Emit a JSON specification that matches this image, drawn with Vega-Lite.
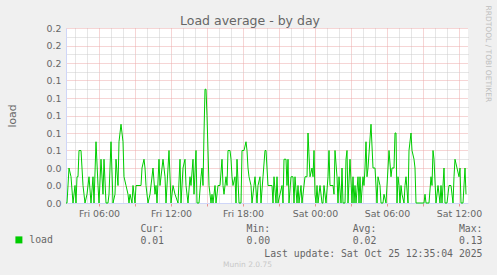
{
  "$schema": "https://vega.github.io/schema/vega-lite/v6.json",
  "width": 402,
  "height": 175,
  "autosize": {"type": "none"},
  "padding": {"left": 66, "top": 28, "right": 29, "bottom": 72},
  "background": "#F0F0F0",
  "config": {
    "view": {"stroke": null, "fill": "#FFFFFF"},
    "font": "DejaVu Sans"
  },
  "title": {
    "text": "Munin 2.0.75",
    "orient": "bottom",
    "anchor": "middle",
    "frame": "group",
    "font": "DejaVu Sans",
    "fontSize": 7.5,
    "fontWeight": "normal",
    "color": "#C8C8C8",
    "dx": -19.5,
    "offset": 3
  },
  "data": {
    "values": [
      {"time": "2025-10-24T03:15Z", "load": 0},
      {"time": "2025-10-24T03:20Z", "load": 0},
      {"time": "2025-10-24T03:30Z", "load": 0.04},
      {"time": "2025-10-24T03:40Z", "load": 0.03},
      {"time": "2025-10-24T03:50Z", "load": 0},
      {"time": "2025-10-24T04:00Z", "load": 0.02},
      {"time": "2025-10-24T04:05Z", "load": 0},
      {"time": "2025-10-24T04:10Z", "load": 0.03},
      {"time": "2025-10-24T04:15Z", "load": 0.03},
      {"time": "2025-10-24T04:20Z", "load": 0.06},
      {"time": "2025-10-24T04:30Z", "load": 0.06},
      {"time": "2025-10-24T04:40Z", "load": 0.02},
      {"time": "2025-10-24T04:45Z", "load": 0.01},
      {"time": "2025-10-24T04:50Z", "load": 0},
      {"time": "2025-10-24T05:00Z", "load": 0.01},
      {"time": "2025-10-24T05:10Z", "load": 0.03},
      {"time": "2025-10-24T05:20Z", "load": 0},
      {"time": "2025-10-24T05:30Z", "load": 0.03},
      {"time": "2025-10-24T05:35Z", "load": 0},
      {"time": "2025-10-24T05:45Z", "load": 0.07},
      {"time": "2025-10-24T05:55Z", "load": 0.02},
      {"time": "2025-10-24T06:00Z", "load": 0},
      {"time": "2025-10-24T06:10Z", "load": 0.05},
      {"time": "2025-10-24T06:20Z", "load": 0.01},
      {"time": "2025-10-24T06:25Z", "load": 0.05},
      {"time": "2025-10-24T06:35Z", "load": 0},
      {"time": "2025-10-24T06:45Z", "load": 0},
      {"time": "2025-10-24T06:50Z", "load": 0.01},
      {"time": "2025-10-24T07:00Z", "load": 0.07},
      {"time": "2025-10-24T07:10Z", "load": 0},
      {"time": "2025-10-24T07:20Z", "load": 0.01},
      {"time": "2025-10-24T07:25Z", "load": 0.05},
      {"time": "2025-10-24T07:35Z", "load": 0.02},
      {"time": "2025-10-24T07:40Z", "load": 0.07},
      {"time": "2025-10-24T07:50Z", "load": 0.09},
      {"time": "2025-10-24T07:55Z", "load": 0.08},
      {"time": "2025-10-24T08:00Z", "load": 0.07},
      {"time": "2025-10-24T08:05Z", "load": 0.03},
      {"time": "2025-10-24T08:15Z", "load": 0.02},
      {"time": "2025-10-24T08:25Z", "load": 0.01},
      {"time": "2025-10-24T08:30Z", "load": 0},
      {"time": "2025-10-24T08:35Z", "load": 0.01},
      {"time": "2025-10-24T08:45Z", "load": 0},
      {"time": "2025-10-24T08:50Z", "load": 0.02},
      {"time": "2025-10-24T09:00Z", "load": 0},
      {"time": "2025-10-24T09:05Z", "load": 0.02},
      {"time": "2025-10-24T09:30Z", "load": 0.02},
      {"time": "2025-10-24T09:35Z", "load": 0.04},
      {"time": "2025-10-24T09:45Z", "load": 0.05},
      {"time": "2025-10-24T09:50Z", "load": 0.04},
      {"time": "2025-10-24T09:55Z", "load": 0.02},
      {"time": "2025-10-24T10:05Z", "load": 0},
      {"time": "2025-10-24T10:15Z", "load": 0.01},
      {"time": "2025-10-24T10:30Z", "load": 0.04},
      {"time": "2025-10-24T10:40Z", "load": 0.01},
      {"time": "2025-10-24T10:45Z", "load": 0.02},
      {"time": "2025-10-24T10:50Z", "load": 0},
      {"time": "2025-10-24T11:00Z", "load": 0.05},
      {"time": "2025-10-24T11:05Z", "load": 0.02},
      {"time": "2025-10-24T11:20Z", "load": 0.05},
      {"time": "2025-10-24T11:30Z", "load": 0.03},
      {"time": "2025-10-24T11:35Z", "load": 0},
      {"time": "2025-10-24T11:50Z", "load": 0.06},
      {"time": "2025-10-24T12:00Z", "load": 0},
      {"time": "2025-10-24T12:10Z", "load": 0.02},
      {"time": "2025-10-24T12:20Z", "load": 0.01},
      {"time": "2025-10-24T12:35Z", "load": 0},
      {"time": "2025-10-24T12:45Z", "load": 0.05},
      {"time": "2025-10-24T12:50Z", "load": 0},
      {"time": "2025-10-24T13:00Z", "load": 0.04},
      {"time": "2025-10-24T13:10Z", "load": 0.05},
      {"time": "2025-10-24T13:15Z", "load": 0.02},
      {"time": "2025-10-24T13:25Z", "load": 0},
      {"time": "2025-10-24T13:35Z", "load": 0.03},
      {"time": "2025-10-24T13:40Z", "load": 0.02},
      {"time": "2025-10-24T13:50Z", "load": 0.05},
      {"time": "2025-10-24T13:55Z", "load": 0.01},
      {"time": "2025-10-24T14:05Z", "load": 0.06},
      {"time": "2025-10-24T14:10Z", "load": 0},
      {"time": "2025-10-24T14:20Z", "load": 0},
      {"time": "2025-10-24T14:30Z", "load": 0.03},
      {"time": "2025-10-24T14:35Z", "load": 0.04},
      {"time": "2025-10-24T14:40Z", "load": 0.02},
      {"time": "2025-10-24T14:45Z", "load": 0.08},
      {"time": "2025-10-24T14:50Z", "load": 0.13},
      {"time": "2025-10-24T14:55Z", "load": 0.13},
      {"time": "2025-10-24T15:00Z", "load": 0.1},
      {"time": "2025-10-24T15:05Z", "load": 0.06},
      {"time": "2025-10-24T15:10Z", "load": 0.02},
      {"time": "2025-10-24T15:20Z", "load": 0},
      {"time": "2025-10-24T15:25Z", "load": 0.01},
      {"time": "2025-10-24T15:30Z", "load": 0},
      {"time": "2025-10-24T15:40Z", "load": 0.02},
      {"time": "2025-10-24T15:45Z", "load": 0},
      {"time": "2025-10-24T15:55Z", "load": 0.02},
      {"time": "2025-10-24T16:05Z", "load": 0.02},
      {"time": "2025-10-24T16:15Z", "load": 0.05},
      {"time": "2025-10-24T16:20Z", "load": 0.02},
      {"time": "2025-10-24T16:25Z", "load": 0.01},
      {"time": "2025-10-24T16:35Z", "load": 0.03},
      {"time": "2025-10-24T16:40Z", "load": 0.02},
      {"time": "2025-10-24T16:45Z", "load": 0.06},
      {"time": "2025-10-24T16:55Z", "load": 0.06},
      {"time": "2025-10-24T17:00Z", "load": 0.05},
      {"time": "2025-10-24T17:05Z", "load": 0.03},
      {"time": "2025-10-24T17:10Z", "load": 0.02},
      {"time": "2025-10-24T17:20Z", "load": 0.03},
      {"time": "2025-10-24T17:25Z", "load": 0},
      {"time": "2025-10-24T17:30Z", "load": 0.05},
      {"time": "2025-10-24T17:40Z", "load": 0},
      {"time": "2025-10-24T17:50Z", "load": 0},
      {"time": "2025-10-24T17:55Z", "load": 0.06},
      {"time": "2025-10-24T18:05Z", "load": 0.06},
      {"time": "2025-10-24T18:15Z", "load": 0.07},
      {"time": "2025-10-24T18:20Z", "load": 0.06},
      {"time": "2025-10-24T18:25Z", "load": 0.04},
      {"time": "2025-10-24T18:30Z", "load": 0.03},
      {"time": "2025-10-24T18:40Z", "load": 0.02},
      {"time": "2025-10-24T18:45Z", "load": 0},
      {"time": "2025-10-24T18:55Z", "load": 0.02},
      {"time": "2025-10-24T19:00Z", "load": 0.03},
      {"time": "2025-10-24T19:10Z", "load": 0},
      {"time": "2025-10-24T19:15Z", "load": 0.02},
      {"time": "2025-10-24T19:25Z", "load": 0.03},
      {"time": "2025-10-24T19:30Z", "load": 0},
      {"time": "2025-10-24T19:40Z", "load": 0.03},
      {"time": "2025-10-24T19:50Z", "load": 0.06},
      {"time": "2025-10-24T19:55Z", "load": 0.06},
      {"time": "2025-10-24T20:00Z", "load": 0.04},
      {"time": "2025-10-24T20:05Z", "load": 0.02},
      {"time": "2025-10-24T20:25Z", "load": 0.02},
      {"time": "2025-10-24T20:30Z", "load": 0},
      {"time": "2025-10-24T20:35Z", "load": 0.03},
      {"time": "2025-10-24T20:45Z", "load": 0},
      {"time": "2025-10-24T20:50Z", "load": 0.03},
      {"time": "2025-10-24T20:55Z", "load": 0},
      {"time": "2025-10-24T21:05Z", "load": 0.01},
      {"time": "2025-10-24T21:15Z", "load": 0.02},
      {"time": "2025-10-24T21:20Z", "load": 0},
      {"time": "2025-10-24T21:25Z", "load": 0.05},
      {"time": "2025-10-24T21:35Z", "load": 0.05},
      {"time": "2025-10-24T21:40Z", "load": 0.02},
      {"time": "2025-10-24T21:45Z", "load": 0.05},
      {"time": "2025-10-24T21:50Z", "load": 0},
      {"time": "2025-10-24T22:00Z", "load": 0.03},
      {"time": "2025-10-24T22:10Z", "load": 0.03},
      {"time": "2025-10-24T22:15Z", "load": 0},
      {"time": "2025-10-24T22:20Z", "load": 0.03},
      {"time": "2025-10-24T22:30Z", "load": 0},
      {"time": "2025-10-24T22:35Z", "load": 0.02},
      {"time": "2025-10-24T22:40Z", "load": 0},
      {"time": "2025-10-24T22:50Z", "load": 0.02},
      {"time": "2025-10-24T22:55Z", "load": 0},
      {"time": "2025-10-24T23:00Z", "load": 0.01},
      {"time": "2025-10-24T23:10Z", "load": 0.03},
      {"time": "2025-10-24T23:20Z", "load": 0.03},
      {"time": "2025-10-24T23:25Z", "load": 0.08},
      {"time": "2025-10-24T23:35Z", "load": 0.03},
      {"time": "2025-10-24T23:45Z", "load": 0.04},
      {"time": "2025-10-24T23:50Z", "load": 0.03},
      {"time": "2025-10-24T23:55Z", "load": 0.06},
      {"time": "2025-10-25T00:00Z", "load": 0.01},
      {"time": "2025-10-25T00:05Z", "load": 0},
      {"time": "2025-10-25T00:10Z", "load": 0.02},
      {"time": "2025-10-25T00:15Z", "load": 0},
      {"time": "2025-10-25T00:25Z", "load": 0.02},
      {"time": "2025-10-25T00:35Z", "load": 0},
      {"time": "2025-10-25T00:40Z", "load": 0},
      {"time": "2025-10-25T00:45Z", "load": 0.02},
      {"time": "2025-10-25T00:55Z", "load": 0},
      {"time": "2025-10-25T01:05Z", "load": 0.03},
      {"time": "2025-10-25T01:10Z", "load": 0.06},
      {"time": "2025-10-25T01:15Z", "load": 0.02},
      {"time": "2025-10-25T01:30Z", "load": 0.02},
      {"time": "2025-10-25T01:35Z", "load": 0.01},
      {"time": "2025-10-25T01:40Z", "load": 0.06},
      {"time": "2025-10-25T01:50Z", "load": 0.03},
      {"time": "2025-10-25T01:55Z", "load": 0},
      {"time": "2025-10-25T02:00Z", "load": 0.03},
      {"time": "2025-10-25T02:10Z", "load": 0},
      {"time": "2025-10-25T02:15Z", "load": 0.04},
      {"time": "2025-10-25T02:20Z", "load": 0},
      {"time": "2025-10-25T02:30Z", "load": 0},
      {"time": "2025-10-25T02:35Z", "load": 0.05},
      {"time": "2025-10-25T02:40Z", "load": 0.06},
      {"time": "2025-10-25T02:45Z", "load": 0},
      {"time": "2025-10-25T02:55Z", "load": 0.05},
      {"time": "2025-10-25T03:05Z", "load": 0},
      {"time": "2025-10-25T03:10Z", "load": 0.03},
      {"time": "2025-10-25T03:15Z", "load": 0},
      {"time": "2025-10-25T03:20Z", "load": 0.02},
      {"time": "2025-10-25T03:25Z", "load": 0},
      {"time": "2025-10-25T03:35Z", "load": 0.03},
      {"time": "2025-10-25T03:40Z", "load": 0},
      {"time": "2025-10-25T03:45Z", "load": 0.03},
      {"time": "2025-10-25T03:50Z", "load": 0},
      {"time": "2025-10-25T04:00Z", "load": 0.03},
      {"time": "2025-10-25T04:05Z", "load": 0.02},
      {"time": "2025-10-25T04:10Z", "load": 0.04},
      {"time": "2025-10-25T04:15Z", "load": 0.07},
      {"time": "2025-10-25T04:20Z", "load": 0.03},
      {"time": "2025-10-25T04:25Z", "load": 0.04},
      {"time": "2025-10-25T04:40Z", "load": 0.09},
      {"time": "2025-10-25T04:50Z", "load": 0.04},
      {"time": "2025-10-25T05:00Z", "load": 0.04},
      {"time": "2025-10-25T05:10Z", "load": 0},
      {"time": "2025-10-25T05:15Z", "load": 0.03},
      {"time": "2025-10-25T05:25Z", "load": 0.02},
      {"time": "2025-10-25T05:30Z", "load": 0},
      {"time": "2025-10-25T05:40Z", "load": 0},
      {"time": "2025-10-25T05:45Z", "load": 0.01},
      {"time": "2025-10-25T05:55Z", "load": 0},
      {"time": "2025-10-25T06:10Z", "load": 0.06},
      {"time": "2025-10-25T06:20Z", "load": 0.03},
      {"time": "2025-10-25T06:25Z", "load": 0.04},
      {"time": "2025-10-25T06:35Z", "load": 0.04},
      {"time": "2025-10-25T06:40Z", "load": 0.08},
      {"time": "2025-10-25T06:45Z", "load": 0.08},
      {"time": "2025-10-25T06:50Z", "load": 0},
      {"time": "2025-10-25T06:55Z", "load": 0.03},
      {"time": "2025-10-25T07:00Z", "load": 0.02},
      {"time": "2025-10-25T07:05Z", "load": 0},
      {"time": "2025-10-25T07:10Z", "load": 0.02},
      {"time": "2025-10-25T07:15Z", "load": 0.01},
      {"time": "2025-10-25T07:25Z", "load": 0},
      {"time": "2025-10-25T07:30Z", "load": 0.02},
      {"time": "2025-10-25T07:35Z", "load": 0.03},
      {"time": "2025-10-25T07:45Z", "load": 0},
      {"time": "2025-10-25T07:50Z", "load": 0.06},
      {"time": "2025-10-25T08:00Z", "load": 0.08},
      {"time": "2025-10-25T08:05Z", "load": 0.06},
      {"time": "2025-10-25T08:15Z", "load": 0.05},
      {"time": "2025-10-25T08:20Z", "load": 0.04},
      {"time": "2025-10-25T08:25Z", "load": 0},
      {"time": "2025-10-25T09:05Z", "load": 0},
      {"time": "2025-10-25T09:10Z", "load": 0.01},
      {"time": "2025-10-25T09:15Z", "load": 0},
      {"time": "2025-10-25T09:30Z", "load": 0},
      {"time": "2025-10-25T09:40Z", "load": 0.03},
      {"time": "2025-10-25T09:45Z", "load": 0.02},
      {"time": "2025-10-25T09:50Z", "load": 0.06},
      {"time": "2025-10-25T09:55Z", "load": 0.05},
      {"time": "2025-10-25T10:05Z", "load": 0},
      {"time": "2025-10-25T10:15Z", "load": 0.02},
      {"time": "2025-10-25T10:25Z", "load": 0},
      {"time": "2025-10-25T10:30Z", "load": 0.02},
      {"time": "2025-10-25T10:35Z", "load": 0},
      {"time": "2025-10-25T10:45Z", "load": 0.04},
      {"time": "2025-10-25T10:50Z", "load": 0},
      {"time": "2025-10-25T11:00Z", "load": 0},
      {"time": "2025-10-25T11:10Z", "load": 0.02},
      {"time": "2025-10-25T11:20Z", "load": 0.02},
      {"time": "2025-10-25T11:30Z", "load": 0},
      {"time": "2025-10-25T11:35Z", "load": 0.03},
      {"time": "2025-10-25T11:40Z", "load": 0.05},
      {"time": "2025-10-25T11:50Z", "load": 0.04},
      {"time": "2025-10-25T12:00Z", "load": 0.03},
      {"time": "2025-10-25T12:05Z", "load": 0.04},
      {"time": "2025-10-25T12:10Z", "load": 0},
      {"time": "2025-10-25T12:20Z", "load": 0},
      {"time": "2025-10-25T12:30Z", "load": 0.04},
      {"time": "2025-10-25T12:35Z", "load": 0.01}
    ]
  },
  "layer": [
    {
      "mark": {"type": "line", "strokeWidth": 1},
      "encoding": {
        "x": {
          "field": "time",
          "type": "temporal",
          "scale": {"type": "utc", "domain": [1761275700000, 1761396300000]},
          "axis": {
            "values": [1761285600000, 1761296400000, 1761307200000, 1761318000000, 1761328800000, 1761339600000, 1761350400000, 1761361200000, 1761372000000, 1761382800000, 1761393600000],
            "labelExpr": "utchours(datum.value) % 6 == 0 ? utcFormat(datum.value, '%a %H:%M') : ''",
            "labelFont": "DejaVu Sans",
            "labelFontSize": 9.4,
            "labelColor": "#666666",
            "labelOverlap": false,
            "labelFlush": false,
            "labelPadding": 3,
            "labelBaseline": "top",
            "tickSize": 3,
            "tickColor": "#E89090",
            "domainColor": "#CFD6F8",
            "grid": true,
            "gridColor": "#EDAAAA",
            "gridDash": [1, 1],
            "gridOpacity": 1,
            "title": [
              "Cur:\u00a0\u00a0\u00a0\u00a0\u00a0\u00a0\u00a0\u00a0\u00a0\u00a0\u00a0\u00a0\u00a0\u00a0Min:\u00a0\u00a0\u00a0\u00a0\u00a0\u00a0\u00a0\u00a0\u00a0\u00a0\u00a0\u00a0\u00a0\u00a0Avg:\u00a0\u00a0\u00a0\u00a0\u00a0\u00a0\u00a0\u00a0\u00a0\u00a0\u00a0\u00a0\u00a0\u00a0Max:\u00a0\u00a0",
              "0.01\u00a0\u00a0\u00a0\u00a0\u00a0\u00a0\u00a0\u00a0\u00a0\u00a0\u00a0\u00a0\u00a0\u00a00.00\u00a0\u00a0\u00a0\u00a0\u00a0\u00a0\u00a0\u00a0\u00a0\u00a0\u00a0\u00a0\u00a0\u00a00.02\u00a0\u00a0\u00a0\u00a0\u00a0\u00a0\u00a0\u00a0\u00a0\u00a0\u00a0\u00a0\u00a0\u00a00.13",
              "Last update: Sat Oct 25 12:35:04 2025"
            ],
            "titleFont": "DejaVu Sans Mono",
            "titleFontSize": 9.8,
            "titleFontWeight": "normal",
            "titleColor": "#666666",
            "titleAlign": "right",
            "titleX": 416,
            "titleY": 28.5,
            "titleBaseline": "alphabetic",
            "titleLineHeight": 12.25
          }
        },
        "y": {
          "field": "load",
          "type": "quantitative",
          "scale": {"domain": [0, 0.2], "nice": false},
          "axis": {
            "values": [0, 0.02, 0.04, 0.06, 0.08, 0.1, 0.12, 0.14, 0.16, 0.18, 0.2],
            "format": ".1f",
            "labelFont": "DejaVu Sans",
            "labelFontSize": 9.4,
            "labelColor": "#666666",
            "labelPadding": 5,
            "ticks": false,
            "domainColor": "#CFD6F8",
            "grid": true,
            "gridColor": "#EDAAAA",
            "gridDash": [1, 1],
            "gridOpacity": 1,
            "title": "load",
            "titleFont": "DejaVu Sans",
            "titleFontSize": 10.8,
            "titleFontWeight": "normal",
            "titleColor": "#666666",
            "titleAngle": 270,
            "titleAlign": "center",
            "titleBaseline": "alphabetic",
            "titleX": -51,
            "titleY": 87.5
          }
        },
        "color": {
          "datum": "load",
          "type": "nominal",
          "scale": {"range": ["#00CC00"]},
          "legend": {
            "orient": "none",
            "legendX": -52,
            "legendY": 207,
            "title": null,
            "padding": 0,
            "symbolType": "square",
            "symbolSize": 49,
            "symbolFillColor": "#00CC00",
            "symbolStrokeColor": "#00CC00",
            "symbolStrokeWidth": 0,
            "labelFont": "DejaVu Sans Mono",
            "labelFontSize": 9.8,
            "labelColor": "#666666",
            "labelOffset": 5.5
          }
        }
      }
    },
    {
      "mark": {"type": "point", "opacity": 0},
      "encoding": {
        "x": {
          "field": "time",
          "type": "temporal",
          "scale": {"type": "utc", "domain": [1761275700000, 1761396300000]},
          "axis": {
            "orient": "top",
            "domain": false,
            "ticks": false,
            "labels": false,
            "values": [1761278400000, 1761282000000, 1761289200000, 1761292800000, 1761300000000, 1761303600000, 1761310800000, 1761314400000, 1761321600000, 1761325200000, 1761332400000, 1761336000000, 1761343200000, 1761346800000, 1761354000000, 1761357600000, 1761364800000, 1761368400000, 1761375600000, 1761379200000, 1761386400000, 1761390000000],
            "grid": true,
            "gridColor": "#CCCCCC",
            "gridDash": [1, 1],
            "gridOpacity": 1,
            "title": "Load average - by day",
            "titleFont": "DejaVu Sans",
            "titleFontSize": 12.5,
            "titleFontWeight": "normal",
            "titleColor": "#666666",
            "titleAlign": "center",
            "titleBaseline": "alphabetic",
            "titleX": 183.5,
            "titleY": -3.5
          }
        },
        "y": {
          "field": "load",
          "type": "quantitative",
          "scale": {"domain": [0, 0.2], "nice": false},
          "axis": {
            "orient": "right",
            "domain": false,
            "ticks": false,
            "labels": false,
            "values": [0.01, 0.03, 0.05, 0.07, 0.09, 0.11, 0.13, 0.15, 0.17, 0.19],
            "grid": true,
            "gridColor": "#CCCCCC",
            "gridDash": [1, 1],
            "gridOpacity": 1,
            "title": "RRDTOOL / TOBI OETIKER",
            "titleFont": "DejaVu Sans",
            "titleFontSize": 7.5,
            "titleFontWeight": "normal",
            "titleColor": "#BEBEBE",
            "titleAngle": 90,
            "titleAlign": "left",
            "titleBaseline": "alphabetic",
            "titleX": 17,
            "titleY": -23
          }
        }
      }
    }
  ],
  "resolve": {"scale": {"x": "independent", "y": "independent"}}
}
